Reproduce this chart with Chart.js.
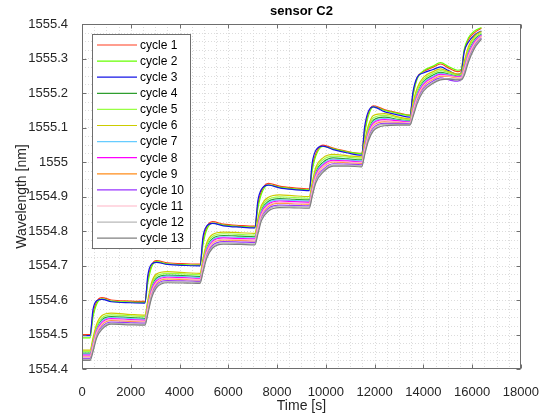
<!DOCTYPE html>
<html>
<head>
<meta charset="utf-8">
<title>sensor C2</title>
<script src="https://cdn.jsdelivr.net/npm/chart.js@4/dist/chart.umd.min.js"></script>
<style>
  html, body { margin: 0; padding: 0; background: #fff; }
  #wrap { width: 547px; height: 418px; }
</style>
</head>
<body>
<div id="wrap"><canvas id="sensorChart" width="547" height="418"></canvas></div>
<script>
// sample times [s], shared by all cycles
const times = [
    0, 330,
    450, 600, 820, 1200, 2000, 2580,
    2700, 2850, 3050, 3500, 4300, 4840,
    4960, 5110, 5350, 5800, 6500, 7090,
    7210, 7360, 7650, 8100, 8700, 9320,
    9440, 9590, 9880, 10300, 10900, 11470,
    11590, 11740, 11950, 12400, 13000, 13450,
    13570, 13750, 14000, 14400, 14700, 15050, 15400, 15550,
    15670, 15850, 16100, 16380
];

// wavelength [nm], one array per cycle
const cycle1 = [
    1554.500, 1554.500,
    1554.560, 1554.595, 1554.607, 1554.600, 1554.597, 1554.596,
    1554.660, 1554.700, 1554.714, 1554.708, 1554.705, 1554.704,
    1554.770, 1554.810, 1554.827, 1554.820, 1554.816, 1554.814,
    1554.875, 1554.915, 1554.938, 1554.930, 1554.925, 1554.922,
    1554.985, 1555.025, 1555.049, 1555.040, 1555.030, 1555.025,
    1555.090, 1555.140, 1555.163, 1555.152, 1555.142, 1555.136,
    1555.195, 1555.245, 1555.262, 1555.275, 1555.284, 1555.272, 1555.262, 1555.265,
    1555.320, 1555.355, 1555.375, 1555.388
];
const cycle2 = [
    1554.490, 1554.490,
    1554.550, 1554.588, 1554.603, 1554.597, 1554.594, 1554.593,
    1554.650, 1554.695, 1554.711, 1554.705, 1554.702, 1554.701,
    1554.760, 1554.803, 1554.823, 1554.817, 1554.813, 1554.811,
    1554.865, 1554.908, 1554.934, 1554.927, 1554.922, 1554.919,
    1554.975, 1555.018, 1555.045, 1555.038, 1555.029, 1555.024,
    1555.082, 1555.133, 1555.160, 1555.150, 1555.140, 1555.135,
    1555.190, 1555.242, 1555.264, 1555.278, 1555.288, 1555.276, 1555.266, 1555.268,
    1555.325, 1555.360, 1555.380, 1555.390
];
const cycle3 = [
    1554.497, 1554.497,
    1554.572, 1554.598, 1554.602, 1554.595, 1554.592, 1554.591,
    1554.672, 1554.704, 1554.709, 1554.703, 1554.700, 1554.699,
    1554.782, 1554.814, 1554.822, 1554.815, 1554.811, 1554.809,
    1554.887, 1554.921, 1554.933, 1554.925, 1554.920, 1554.917,
    1554.997, 1555.034, 1555.046, 1555.036, 1555.026, 1555.020,
    1555.102, 1555.146, 1555.160, 1555.146, 1555.136, 1555.130,
    1555.202, 1555.246, 1555.258, 1555.268, 1555.276, 1555.264, 1555.254, 1555.258,
    1555.318, 1555.348, 1555.368, 1555.380
];
const cycle4 = [
    1554.446, 1554.446,
    1554.478, 1554.518, 1554.543, 1554.552, 1554.549, 1554.547,
    1554.588, 1554.636, 1554.663, 1554.672, 1554.670, 1554.668,
    1554.708, 1554.751, 1554.778, 1554.787, 1554.785, 1554.783,
    1554.821, 1554.861, 1554.886, 1554.894, 1554.892, 1554.890,
    1554.928, 1554.971, 1554.999, 1555.012, 1555.009, 1555.006,
    1555.048, 1555.091, 1555.121, 1555.130, 1555.123, 1555.120,
    1555.158, 1555.201, 1555.233, 1555.252, 1555.260, 1555.255, 1555.250, 1555.251,
    1555.278, 1555.321, 1555.355, 1555.371
];
const cycle5 = [
    1554.451, 1554.451,
    1554.484, 1554.524, 1554.549, 1554.557, 1554.554, 1554.552,
    1554.594, 1554.643, 1554.669, 1554.677, 1554.675, 1554.673,
    1554.714, 1554.758, 1554.784, 1554.792, 1554.790, 1554.788,
    1554.828, 1554.868, 1554.892, 1554.899, 1554.897, 1554.895,
    1554.934, 1554.978, 1555.006, 1555.017, 1555.014, 1555.011,
    1555.054, 1555.098, 1555.128, 1555.135, 1555.127, 1555.122,
    1555.164, 1555.208, 1555.239, 1555.257, 1555.265, 1555.259, 1555.252, 1555.253,
    1555.284, 1555.328, 1555.360, 1555.375
];
const cycle6 = [
    1554.455, 1554.455,
    1554.490, 1554.530, 1554.555, 1554.562, 1554.558, 1554.556,
    1554.600, 1554.650, 1554.675, 1554.682, 1554.679, 1554.677,
    1554.720, 1554.765, 1554.790, 1554.797, 1554.795, 1554.793,
    1554.835, 1554.875, 1554.898, 1554.905, 1554.902, 1554.900,
    1554.940, 1554.985, 1555.012, 1555.022, 1555.018, 1555.015,
    1555.060, 1555.105, 1555.135, 1555.140, 1555.130, 1555.125,
    1555.170, 1555.215, 1555.245, 1555.262, 1555.270, 1555.262, 1555.255, 1555.256,
    1555.290, 1555.335, 1555.365, 1555.378
];
const cycle7 = [
    1554.443, 1554.443,
    1554.474, 1554.514, 1554.539, 1554.549, 1554.546, 1554.544,
    1554.584, 1554.632, 1554.659, 1554.669, 1554.667, 1554.665,
    1554.704, 1554.747, 1554.774, 1554.783, 1554.781, 1554.780,
    1554.817, 1554.857, 1554.882, 1554.890, 1554.888, 1554.886,
    1554.924, 1554.967, 1554.995, 1555.008, 1555.006, 1555.003,
    1555.044, 1555.087, 1555.117, 1555.126, 1555.121, 1555.118,
    1555.154, 1555.197, 1555.229, 1555.248, 1555.257, 1555.253, 1555.248, 1555.249,
    1555.274, 1555.317, 1555.351, 1555.369
];
const cycle8 = [
    1554.440, 1554.440,
    1554.470, 1554.510, 1554.535, 1554.546, 1554.543, 1554.541,
    1554.580, 1554.628, 1554.655, 1554.666, 1554.664, 1554.662,
    1554.700, 1554.743, 1554.770, 1554.780, 1554.778, 1554.777,
    1554.813, 1554.853, 1554.878, 1554.887, 1554.885, 1554.883,
    1554.920, 1554.963, 1554.991, 1555.005, 1555.003, 1555.000,
    1555.040, 1555.083, 1555.113, 1555.123, 1555.119, 1555.116,
    1555.150, 1555.193, 1555.225, 1555.245, 1555.254, 1555.251, 1555.247, 1555.247,
    1555.270, 1555.313, 1555.348, 1555.367
];
const cycle9 = [
    1554.436, 1554.436,
    1554.464, 1554.504, 1554.529, 1554.541, 1554.538, 1554.537,
    1554.574, 1554.621, 1554.649, 1554.661, 1554.659, 1554.658,
    1554.694, 1554.736, 1554.764, 1554.774, 1554.773, 1554.771,
    1554.806, 1554.846, 1554.872, 1554.881, 1554.879, 1554.878,
    1554.914, 1554.956, 1554.985, 1555.000, 1554.998, 1554.996,
    1555.034, 1555.076, 1555.106, 1555.117, 1555.115, 1555.113,
    1555.144, 1555.186, 1555.219, 1555.240, 1555.249, 1555.248, 1555.244, 1555.244,
    1555.264, 1555.306, 1555.342, 1555.364
];
const cycle10 = [
    1554.431, 1554.431,
    1554.458, 1554.498, 1554.523, 1554.536, 1554.534, 1554.533,
    1554.568, 1554.614, 1554.643, 1554.656, 1554.655, 1554.654,
    1554.688, 1554.729, 1554.758, 1554.769, 1554.768, 1554.767,
    1554.799, 1554.839, 1554.866, 1554.875, 1554.874, 1554.873,
    1554.908, 1554.949, 1554.978, 1554.995, 1554.994, 1554.992,
    1555.028, 1555.069, 1555.099, 1555.112, 1555.112, 1555.111,
    1555.138, 1555.179, 1555.213, 1555.235, 1555.244, 1555.238, 1555.234, 1555.240,
    1555.258, 1555.299, 1555.337, 1555.360
];
const cycle11 = [
    1554.437, 1554.437,
    1554.466, 1554.506, 1554.531, 1554.543, 1554.540, 1554.539,
    1554.576, 1554.623, 1554.651, 1554.663, 1554.661, 1554.660,
    1554.696, 1554.738, 1554.766, 1554.776, 1554.775, 1554.773,
    1554.808, 1554.848, 1554.874, 1554.883, 1554.881, 1554.880,
    1554.916, 1554.958, 1554.987, 1555.002, 1555.000, 1554.998,
    1555.036, 1555.078, 1555.108, 1555.119, 1555.116, 1555.114,
    1555.146, 1555.188, 1555.221, 1555.242, 1555.251, 1555.249, 1555.245, 1555.245,
    1555.266, 1555.308, 1555.344, 1555.365
];
const cycle12 = [
    1554.428, 1554.428,
    1554.454, 1554.494, 1554.519, 1554.533, 1554.531, 1554.530,
    1554.564, 1554.610, 1554.639, 1554.653, 1554.652, 1554.651,
    1554.684, 1554.725, 1554.754, 1554.766, 1554.764, 1554.763,
    1554.795, 1554.835, 1554.862, 1554.872, 1554.871, 1554.869,
    1554.904, 1554.945, 1554.974, 1554.991, 1554.991, 1554.989,
    1555.024, 1555.065, 1555.095, 1555.109, 1555.109, 1555.109,
    1555.134, 1555.175, 1555.209, 1555.231, 1555.241, 1555.242, 1555.240, 1555.240,
    1555.254, 1555.295, 1555.334, 1555.358
];
const cycle13 = [
    1554.425, 1554.425,
    1554.450, 1554.490, 1554.515, 1554.530, 1554.528, 1554.527,
    1554.560, 1554.605, 1554.635, 1554.650, 1554.649, 1554.648,
    1554.680, 1554.720, 1554.750, 1554.762, 1554.761, 1554.760,
    1554.790, 1554.830, 1554.858, 1554.868, 1554.867, 1554.866,
    1554.900, 1554.940, 1554.970, 1554.988, 1554.988, 1554.986,
    1555.020, 1555.060, 1555.090, 1555.105, 1555.107, 1555.107,
    1555.130, 1555.170, 1555.205, 1555.228, 1555.238, 1555.240, 1555.238, 1555.238,
    1555.250, 1555.290, 1555.330, 1555.356
];

const cycleNames = ['cycle 1', 'cycle 2', 'cycle 3', 'cycle 4', 'cycle 5', 'cycle 6', 'cycle 7',
    'cycle 8', 'cycle 9', 'cycle 10', 'cycle 11', 'cycle 12', 'cycle 13'];
const cycleValues = [cycle1, cycle2, cycle3, cycle4, cycle5, cycle6, cycle7,
    cycle8, cycle9, cycle10, cycle11, cycle12, cycle13];
const cycleColors = ['#ff3c1e', '#66ff00', '#1414e6', '#2e9e2e', '#99ff44', '#cccc00', '#66ccff',
    '#ff00ff', '#ff8c1a', '#9933ff', '#ffb3c6', '#b8b8b8', '#808080'];

const xTicks = [0, 2000, 4000, 6000, 8000, 10000, 12000, 14000, 16000, 18000];
const xTickLabels = ['0', '2000', '4000', '6000', '8000', '10000', '12000', '14000', '16000', '18000'];
const yTicks = [1554.4, 1554.5, 1554.6, 1554.7, 1554.8, 1554.9, 1555, 1555.1, 1555.2, 1555.3, 1555.4];
const yTickLabels = ['1554.4', '1554.5', '1554.6', '1554.7', '1554.8', '1554.9', '1555',
    '1555.1', '1555.2', '1555.3', '1555.4'];

const FONT = "'Liberation Sans', Arial, Helvetica, sans-serif";
const AXIS_COLOR = '#262626';

// MATLAB-ish look: dotted grid, box with inward ticks, titles and an inside legend
const matlabAxes = {
    id: 'matlabAxes',
    beforeDatasetsDraw(chart) {
        const ctx = chart.ctx;
        const a = chart.chartArea;
        const xs = chart.scales.x;
        const ys = chart.scales.y;
        ctx.save();
        ctx.strokeStyle = '#dcdcdc';
        ctx.lineWidth = 1;
        ctx.setLineDash([1, 2]);
        for (let t = 500; t < 18000; t += 500) {
            const px = Math.round(xs.getPixelForValue(t)) + 0.5;
            ctx.beginPath();
            ctx.moveTo(px, a.top);
            ctx.lineTo(px, a.bottom);
            ctx.stroke();
        }
        for (let k = 1; k < 40; k++) {
            const py = Math.round(ys.getPixelForValue(1554.4 + k * 0.025)) + 0.5;
            ctx.beginPath();
            ctx.moveTo(a.left, py);
            ctx.lineTo(a.right, py);
            ctx.stroke();
        }
        ctx.restore();
    },
    afterDraw(chart) {
        const ctx = chart.ctx;
        const a = chart.chartArea;
        const xs = chart.scales.x;
        const ys = chart.scales.y;
        const L = Math.round(a.left) + 0.5, R = Math.round(a.right) - 0.5;
        const T = Math.round(a.top) + 0.5, B = Math.round(a.bottom) - 0.5;
        ctx.save();

        // axes box
        ctx.strokeStyle = '#6e6e6e';
        ctx.lineWidth = 1;
        ctx.strokeRect(L, T, R - L, B - T);

        // inward tick marks on all four sides
        ctx.beginPath();
        xTicks.forEach(v => {
            const px = Math.round(xs.getPixelForValue(v)) + 0.5;
            ctx.moveTo(px, B); ctx.lineTo(px, B - 4);
            ctx.moveTo(px, T); ctx.lineTo(px, T + 4);
        });
        yTicks.forEach(v => {
            const py = Math.round(ys.getPixelForValue(v)) + 0.5;
            ctx.moveTo(L, py); ctx.lineTo(L + 4, py);
            ctx.moveTo(R, py); ctx.lineTo(R - 4, py);
        });
        ctx.stroke();

        // titles
        ctx.fillStyle = '#000';
        ctx.textAlign = 'center';
        ctx.textBaseline = 'middle';
        ctx.font = 'bold 13px ' + FONT;
        ctx.fillText('sensor C2', (a.left + a.right) / 2, 11);
        ctx.fillStyle = AXIS_COLOR;
        ctx.font = '14px ' + FONT;
        ctx.fillText('Time [s]', (a.left + a.right) / 2, 406);
        ctx.save();
        ctx.translate(22, (a.top + a.bottom) / 2);
        ctx.rotate(-Math.PI / 2);
        ctx.fillText('Wavelength [nm]', 0, 0);
        ctx.restore();

        // legend box
        const lx = 92, ly = 34, lw = 98, lh = 214, rowH = 16.1;
        ctx.fillStyle = '#fff';
        ctx.fillRect(lx, ly, lw, lh);
        ctx.strokeStyle = '#6e6e6e';
        ctx.strokeRect(lx + 0.5, ly + 0.5, lw, lh);
        ctx.font = '12px ' + FONT;
        ctx.textAlign = 'left';
        chart.data.datasets.forEach((ds, i) => {
            const y = ly + 11 + i * rowH;
            ctx.strokeStyle = ds.borderColor;
            ctx.lineWidth = 1.2;
            ctx.beginPath();
            ctx.moveTo(lx + 5, y);
            ctx.lineTo(lx + 45, y);
            ctx.stroke();
            ctx.fillStyle = '#000';
            ctx.fillText(ds.label, lx + 48, y + 0.5);
        });
        ctx.restore();
    }
};

const datasets = cycleNames.map((name, i) => ({
    label: name,
    data: times.map((t, k) => ({ x: t, y: cycleValues[i][k] })),
    borderColor: cycleColors[i],
    backgroundColor: cycleColors[i],
    borderWidth: 1.2,
    pointRadius: 0,
    fill: false,
    cubicInterpolationMode: 'monotone',
    order: cycleNames.length - i   // later cycles drawn on top, like MATLAB
}));

new Chart(document.getElementById('sensorChart'), {
    type: 'line',
    data: { datasets: datasets },
    options: {
        responsive: false,
        animation: false,
        events: [],
        layout: { padding: { top: 24, right: 26, left: 0, bottom: 0 } },
        plugins: {
            legend: { display: false },
            tooltip: { enabled: false },
            title: { display: false }
        },
        scales: {
            x: {
                type: 'linear',
                min: 0,
                max: 18000,
                afterBuildTicks: scale => { scale.ticks = xTicks.map(v => ({ value: v })); },
                afterFit: scale => { scale.height = 49; },
                grid: { display: false },
                border: { display: false },
                ticks: {
                    autoSkip: false,
                    maxRotation: 0,
                    padding: 8,
                    color: AXIS_COLOR,
                    font: { family: FONT, size: 13 },
                    callback: (v, i) => xTickLabels[i]
                }
            },
            y: {
                type: 'linear',
                min: 1554.4,
                max: 1555.4,
                afterBuildTicks: scale => { scale.ticks = yTicks.map(v => ({ value: v })); },
                afterFit: scale => { scale.width = 82; },
                grid: { display: false },
                border: { display: false },
                ticks: {
                    autoSkip: false,
                    padding: 6,
                    color: AXIS_COLOR,
                    font: { family: FONT, size: 13 },
                    callback: (v, i) => yTickLabels[i]
                }
            }
        }
    },
    plugins: [matlabAxes]
});
</script>
</body>
</html>
